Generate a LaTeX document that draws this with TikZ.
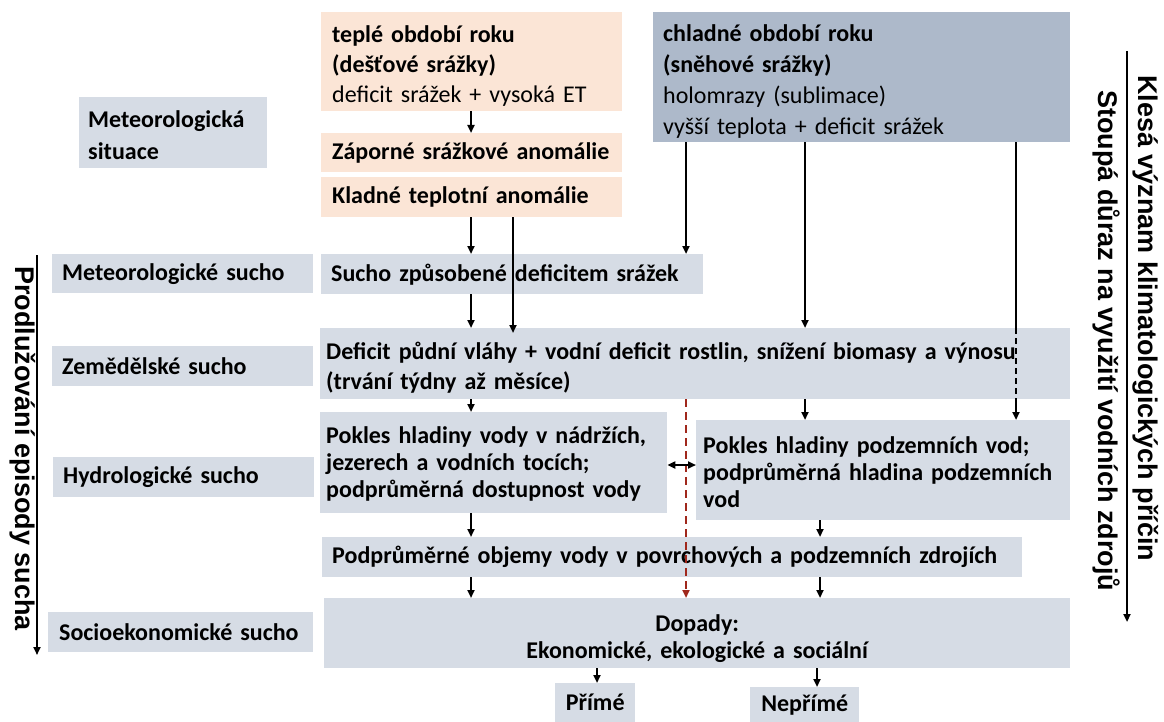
\documentclass[tikz,border=0pt]{standalone}
\usepackage{fontspec}
\setmainfont{Carlito}
\newfontfamily\arialfont{Liberation Sans}
\usetikzlibrary{arrows.meta}
\definecolor{lblue}{HTML}{D6DCE5}
\definecolor{peach}{HTML}{FBE5D6}
\definecolor{coldc}{HTML}{ADB9CA}
\definecolor{dred}{HTML}{A0281C}
\newcommand{\lift}[1]{\rule{0pt}{#1}}
\tikzset{
 box/.style={inner sep=0pt, anchor=north west, font=\fontsize{24}{30}\selectfont\bfseries, align=left},
 lbl/.style={box, fill=lblue},
 warmbox/.style={box, fill=peach},
 coldbox/.style={box, fill=coldc},
 tip/.style={-{Triangle[length=8pt,width=7pt]}},
 arr/.style={line width=2pt, tip},
 ln/.style={line width=2pt},
 vtext/.style={font=\arialfont\bfseries\fontsize{27}{32}\selectfont, rotate=-90, anchor=base west, inner sep=0pt},
}
\begin{document}
\begin{tikzpicture}[x=1pt,y=-1pt]
\fill[white] (0,0) rectangle (1164,722);
\useasboundingbox (0,0) rectangle (1164,722);

% top boxes
\node[warmbox, minimum width=301pt, minimum height=99pt, text width=279pt] (warm) at (321,12)
 {\lift{25pt}teplé období roku\\(dešťové srážky)\\\mdseries deficit srážek + vysoká ET};
\node[warmbox, minimum width=301pt, minimum height=39pt, text width=279pt] (zap) at (321,133) {Záporné srážkové anomálie};
\node[warmbox, minimum width=301pt, minimum height=40pt, text width=279pt] (klad) at (321,177) {Kladné teplotní anomálie};
\node[coldbox, minimum width=417pt, minimum height=130pt, text width=397pt, font=\fontsize{24}{31}\selectfont\bfseries] (cold) at (653,12)
 {\lift{25pt}chladné období roku\\(sněhové srážky)\\\mdseries holomrazy (sublimace)\\vyšší teplota + deficit srážek};

% left labels
\node[lbl, minimum width=188pt, minimum height=71pt, text width=170pt, font=\fontsize{24}{32}\selectfont\bfseries] (msit) at (79,97) {\lift{21pt}Meteorologická\\situace};
\node[lbl, minimum width=261pt, minimum height=39pt, text width=241pt] (lmet) at (52,254) {Meteorologické sucho};
\node[lbl, minimum width=261pt, minimum height=40pt, text width=241pt] (lzem) at (52,346) {Zemědělské sucho};
\node[lbl, minimum width=261pt, minimum height=40pt, text width=241pt] (lhyd) at (53,457) {Hydrologické sucho};
\node[lbl, minimum width=265pt, minimum height=40pt, text width=243pt] (lsoc) at (48,612) {Socioekonomické sucho};

% main flow
\node[lbl, minimum width=382pt, minimum height=40pt, text width=362pt] (sucho) at (321,254) {Sucho způsobené deficitem srážek};
\node[lbl, minimum width=750pt, minimum height=71pt, text width=738pt] (def) at (320,328)
 {\lift{25pt}Deficit půdní vláhy + vodní deficit rostlin, snížení biomasy a výnosu\\(trvání týdny až měsíce)};
\node[lbl, minimum width=347pt, minimum height=101pt, text width=335pt, font=\fontsize{24}{27}\selectfont\bfseries] (povrch) at (320,412)
 {\lift{20pt}Pokles hladiny vody v nádržích,\\jezerech a vodních tocích;\\podprůměrná dostupnost vody};
\node[lbl, minimum width=374pt, minimum height=100pt, text width=360pt, font=\fontsize{24}{27}\selectfont\bfseries] (podz) at (696,420)
 {\lift{20pt}Pokles hladiny podzemních vod;\\podprůměrná hladina podzemních\\vod};
\node[lbl, minimum width=700pt, minimum height=40pt, text width=680pt] (podpr) at (322,537) {Podprůměrné objemy vody v povrchových a podzemních zdrojích};
\node[lbl, minimum width=746pt, minimum height=70pt, text width=730pt, align=center, font=\fontsize{24}{27}\selectfont\bfseries] (dop) at (324,598)
 {\lift{28pt}Dopady:\\Ekonomické, ekologické a sociální};
\node[lbl, minimum width=80pt, minimum height=39pt, align=center] (prime) at (555,683) {Přímé};
\node[lbl, minimum width=109pt, minimum height=35pt, align=center] (neprime) at (750,687) {Nepřímé};

% vertical texts
\node[vtext] (prodl) at (16,266) {Prodlužování episody sucha};
\node[vtext] (klesa) at (1138,75) {Klesá význam klimatologických příčin};
\node[vtext] (stoupa) at (1098,90) {Stoupá důraz na využití vodních zdrojů};

% columns
\coordinate (cA) at (471,0);
\coordinate (cB) at (513,0);
\coordinate (cC) at (686,0);
\coordinate (cD) at (805,0);
\coordinate (cE) at (1016,0);
\coordinate (cF) at (820,0);
\coordinate (cG) at (597,0);
\coordinate (cH) at (817,0);
\coordinate (yD) at (0,465);

% connectors
\draw[arr] (warm.south -| cA) -- (zap.north -| cA);
\draw[arr] (klad.south -| cA) -- (sucho.north -| cA);
\draw[arr] (klad.south -| cB) -- ([yshift=-5pt]def.north -| cB);
\draw[arr] (cold.south -| cC) -- (sucho.north -| cC);
\draw[arr] (cold.south -| cD) -- (def.north -| cD);
\draw[ln] (cold.south -| cE) -- (def.north -| cE);
\draw[ln, dash pattern=on 6pt off 4pt] (def.north -| cE) -- (def.south -| cE);
\draw[arr] (def.south -| cE) -- (podz.north -| cE);
\draw[arr] (sucho.south -| cA) -- (def.north -| cA);
\draw[arr] (def.south -| cA) -- (povrch.north -| cA);
\draw[arr] (def.south -| cD) -- (podz.north -| cD);
\draw[line width=2pt, dred, dash pattern=on 8pt off 5pt, tip] (def.south -| cC) -- (dop.north -| cC);
\draw[line width=2pt, {Triangle[length=8pt,width=7pt]}-{Triangle[length=8pt,width=7pt]}] (povrch.east |- yD) -- (podz.west |- yD);
\draw[arr] (povrch.south -| cA) -- (podpr.north -| cA);
\draw[arr] (podz.south -| cF) -- (podpr.north -| cF);
\draw[arr] (podpr.south -| cA) -- (dop.north -| cA);
\draw[arr] (podpr.south -| cF) -- (dop.north -| cF);
\draw[arr] (dop.south -| cG) -- (prime.north -| cG);
\draw[arr] (dop.south -| cH) -- (neprime.north -| cH);
\draw[arr] (37,255) coordinate (lT) -- (37,655) coordinate (lB);
\draw[arr] (1127,51) coordinate (rT) -- (1127,622) coordinate (rB);
\end{tikzpicture}
\end{document}
